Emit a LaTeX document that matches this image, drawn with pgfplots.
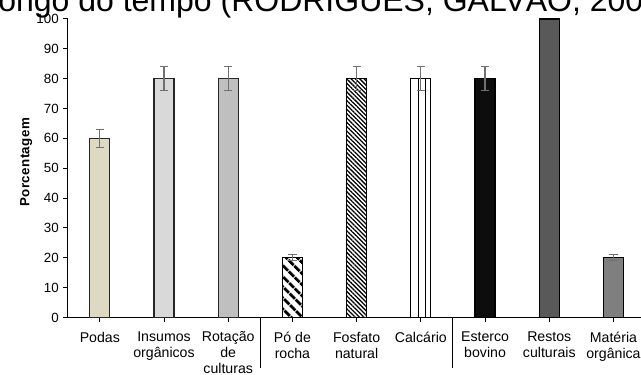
\documentclass[border=0pt]{standalone}
\usepackage{fontspec}
\setmainfont{Liberation Sans}
\newfontfamily\ylabfont[LetterSpace=3]{Liberation Sans}
\usepackage{pgfplots}
\pgfplotsset{compat=1.18}
\usetikzlibrary{patterns.meta}
\definecolor{cPodas}{HTML}{DDD9C3}
\definecolor{cInsumos}{HTML}{D9D9D9}
\definecolor{cRotacao}{HTML}{BFBFBF}
\definecolor{cEsterco}{HTML}{0D0D0D}
\definecolor{cRestos}{HTML}{595959}
\definecolor{cMateria}{HTML}{7F7F7F}
\definecolor{cErr}{HTML}{707070}
\definecolor{cEdge}{HTML}{262626}
\begin{document}
\begin{tikzpicture}
\useasboundingbox (0pt,0pt) rectangle (480.75pt,280.5pt);
\clip (0pt,0pt) rectangle (480.75pt,280.5pt);
\node[anchor=base west, inner sep=0pt, font=\fontsize{24}{28}\selectfont] at (-1.5pt,271.5pt) {ongo do tempo (RODRIGUES; GALVÃO, 2006)};
\node[anchor=base east, inner sep=0pt, font=\fontsize{24}{28}\selectfont] at (-1.5pt,271.5pt) {ao l};
\begin{axis}[
  at={(50.775pt,42.375pt)}, anchor=south west,
  scale only axis, width=433.4pt, height=223.9pt,
  xmin=-0.5, xmax=8.5, ymin=0, ymax=100,
  axis x line*=bottom, axis y line*=left,
  axis line style={black, line width=0.75pt},
  xtick={0,...,8},
  xticklabels={Podas, {Insumos\\orgânicos}, {Rotação\\de\\culturas}, {Pó de\\rocha}, {Fosfato\\natural}, Calcário, {Esterco\\bovino}, {Restos\\culturais}, {Matéria\\orgânica}},
  ytick={0,10,...,100},
  tick align=outside, major tick length=3.2pt,
  tick style={black, line width=0.75pt},
  /pgf/number format/assume math mode=true,
  ticklabel style={font=\fontsize{10}{12}\selectfont},
  xticklabel style={align=center, font=\fontsize{10.6}{12}\selectfont, yshift=-4pt},
  ylabel={Porcentagem},
  ylabel style={font=\ylabfont\bfseries\fontsize{10}{12}\selectfont, at={(axis description cs:-0.072,0.52)}, anchor=center},
  clip=false,
  ybar, bar width=15pt,
  every axis plot/.append style={bar shift=0pt, draw=cEdge, line width=0.9pt},
  error bars/error bar style={line width=0.9pt, color=cErr},
  error bars/error mark options={rotate=90, mark size=3.1pt, line width=0.9pt, color=cErr},
]
\addplot[fill=cPodas, error bars/.cd, y dir=both, y explicit] coordinates {(0,60) +- (0,3)};
\addplot[fill=cInsumos, error bars/.cd, y dir=both, y explicit] coordinates {(1,80) +- (0,4)};
\addplot[fill=cRotacao, error bars/.cd, y dir=both, y explicit] coordinates {(2,80) +- (0,4)};
\addplot[draw=black, pattern={Lines[angle=-45, distance=6.4pt, line width=2.6pt]}, pattern color=black, error bars/.cd, y dir=both, y explicit] coordinates {(3,20) +- (0,1)};
\addplot[draw=black, pattern={Lines[angle=-45, distance=2.3pt, line width=0.95pt]}, pattern color=black, error bars/.cd, y dir=both, y explicit] coordinates {(4,80) +- (0,4)};
\addplot[draw=black, pattern={Lines[angle=90, distance=5.6pt, line width=0.9pt]}, pattern color=black, error bars/.cd, y dir=both, y explicit] coordinates {(5,80) +- (0,4)};
\addplot[fill=cEsterco, draw=black, error bars/.cd, y dir=both, y explicit] coordinates {(6,80) +- (0,4)};
\addplot[fill=cRestos, draw=black] coordinates {(7,100)};
\addplot[fill=cMateria, draw=black, error bars/.cd, y dir=both, y explicit] coordinates {(8,20) +- (0,1)};
\draw[black, line width=0.75pt] (axis cs:2.5,0) -- ([yshift=-37.5pt]axis cs:2.5,0);
\draw[black, line width=0.75pt] (axis cs:5.5,0) -- ([yshift=-37.5pt]axis cs:5.5,0);
\end{axis}
\end{tikzpicture}
\end{document}
